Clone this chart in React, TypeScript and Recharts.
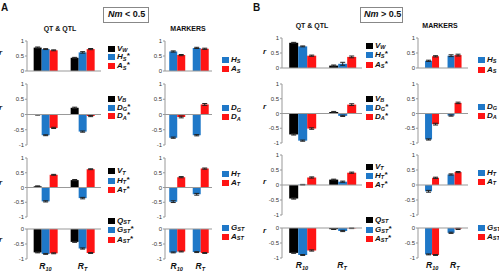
import React from "react";
import { BarChart, Bar, XAxis, YAxis, ReferenceLine, ErrorBar, Legend } from "recharts";

const FONT = "'Liberation Sans', Arial, sans-serif";
const BLACK = "#000000";
const BLUE = "#1f78c8";
const RED = "#ff1414";

const CATS = ["R10", "RT"];

// QT & QTL panels: series V, H*, A*; each row of values is [R10, RT]
const A_QT_1 = [[0.78, 0.44], [0.73, 0.62], [0.69, 0.73]];
const A_QT_2 = [[-0.01, 0.22], [-0.68, -0.56], [-0.44, -0.05]];
const A_QT_3 = [[0.04, 0.25], [-0.47, -0.36], [0.43, 0.62]];
const A_QT_4 = [[-0.78, -0.43], [-0.83, -0.65], [-0.81, -0.8]];
const B_QT_1 = [[0.84, 0.08], [0.72, 0.14], [0.41, 0.37]];
const B_QT_2 = [[-0.71, 0.05], [-0.92, -0.08], [-0.51, 0.3]];
const B_QT_3 = [[-0.45, 0.18], [0.01, 0.11], [0.25, 0.41]];
const B_QT_4 = [[-0.83, -0.04], [-0.9, -0.1], [-0.75, -0.01]];

// marker panels: series H, A
const A_MK_1 = [[0.65, 0.77], [0.53, 0.74]];
const A_MK_2 = [[-0.76, -0.68], [-0.08, 0.33]];
const A_MK_3 = [[-0.48, -0.23], [0.35, 0.64]];
const A_MK_4 = [[-0.78, -0.77], [-0.75, -0.8]];
const B_MK_1 = [[0.24, 0.41], [0.39, 0.43]];
const B_MK_2 = [[-0.88, -0.07], [-0.36, 0.36]];
const B_MK_3 = [[-0.21, 0.35], [0.24, 0.43]];
const B_MK_4 = [[-0.88, -0.16], [-0.9, -0.03]];

// standard errors, same layout as the values
const A_QT_1_ERR = [[0.02, 0.015], [0.015, 0.025], [0.015, 0.02]];
const A_QT_2_ERR = [[0.01, 0.02], [0.015, 0.02], [0.02, 0.02]];
const A_QT_3_ERR = [[0.015, 0.02], [0.02, 0.025], [0.015, 0.015]];
const A_QT_4_ERR = [[0.015, 0.015], [0.015, 0.02], [0.015, 0.015]];
const B_QT_1_ERR = [[0.015, 0.02], [0.015, 0.05], [0.02, 0.03]];
const B_QT_2_ERR = [[0.02, 0.02], [0.02, 0.02], [0.025, 0.03]];
const B_QT_3_ERR = [[0.02, 0.015], [0.01, 0.02], [0.02, 0.02]];
const B_QT_4_ERR = [[0.015, 0.01], [0.015, 0.02], [0.02, 0.01]];
const A_MK_1_ERR = [[0.02, 0.02], [0.02, 0.02]];
const A_MK_2_ERR = [[0.02, 0.02], [0.03, 0.03]];
const A_MK_3_ERR = [[0.03, 0.03], [0.02, 0.02]];
const A_MK_4_ERR = [[0.015, 0.015], [0.015, 0.015]];
const B_MK_1_ERR = [[0.02, 0.03], [0.02, 0.03]];
const B_MK_2_ERR = [[0.02, 0.02], [0.03, 0.025]];
const B_MK_3_ERR = [[0.03, 0.02], [0.02, 0.02]];
const B_MK_4_ERR = [[0.015, 0.02], [0.015, 0.02]];

// legend labels: [main letter, subscript, suffix]
const QT_LABELS = [
  [["V", "W", ""], ["H", "S", "*"], ["A", "S", "*"]],
  [["V", "B", ""], ["D", "G", "*"], ["D", "A", "*"]],
  [["V", "T", ""], ["H", "T", "*"], ["A", "T", "*"]],
  [["Q", "ST", ""], ["G", "ST", "*"], ["A", "ST", "*"]],
];
const MK_LABELS = [
  [["H", "S", ""], ["A", "S", ""]],
  [["D", "G", ""], ["D", "A", ""]],
  [["H", "T", ""], ["A", "T", ""]],
  [["G", "ST", ""], ["A", "ST", ""]],
];

const TICKS_POS = [0, 0.5, 1];
const TICKS_FULL = [-1, -0.5, 0, 0.5, 1];
const TICKS_NEG = [-1, -0.5, 0];

const YW = 22; // y axis width
const MT = 4;

type PanelProps = {
  values: number[][];
  errors: number[][];
  colors: string[];
  labels: string[][];
  axisX: number;
  right: number;
  top: number;
  bottom: number;
  domain: [number, number];
  ticks: number[];
  legendX: number;
  legendY: number[];
  showCats?: boolean;
  padL?: number;
  padR?: number;
};

const CatTick = ({ x, y, payload }: any) => {
  const v = String(payload.value);
  return (
    <text x={x} y={y + 10} textAnchor="middle" fontFamily={FONT} fontSize={8.5} fontWeight="bold" fontStyle="italic" fill="#111">
      {v.slice(0, 1)}
      <tspan fontSize={5.5} dy={1.5}>{v.slice(1)}</tspan>
    </text>
  );
};

function LegendLabel({ label }: { label: string[] }) {
  return (
    <span style={{ fontFamily: FONT, fontWeight: "bold", fontStyle: "italic", fontSize: 8, color: "#111", lineHeight: "8px", whiteSpace: "nowrap" }}>
      {label[0]}
      <span style={{ fontSize: 5.5, position: "relative", top: 1.5 }}>{label[1]}</span>
      {label[2] && <span style={{ position: "relative", top: -1 }}>{label[2]}</span>}
    </span>
  );
}

function Panel(p: PanelProps) {
  const mb = p.showCats ? 0 : 2;
  const xh = p.showCats ? 15 : 0;
  const left = p.axisX - YW;
  const chartTop = p.top - MT;
  const width = p.legendX + 40 - left;
  const height = MT + (p.bottom - p.top) + mb + xh;
  const data = CATS.map((c, i) => {
    const row: Record<string, any> = { cat: c };
    p.values.forEach((s, k) => {
      row["s" + k] = s[i];
      row["e" + k] = p.errors[k][i];
    });
    return row;
  });
  return (
    <div style={{ position: "absolute", left, top: chartTop }}>
      <BarChart
        width={width}
        height={height}
        data={data}
        margin={{ top: MT, right: p.legendX + 40 - p.right, bottom: mb, left: 0 }}
        barCategoryGap="18%"
        barGap={0}
      >
        <XAxis
          dataKey="cat"
          hide={!p.showCats}
          height={xh}
          interval={0}
          axisLine={false}
          tickLine={false}
          tickSize={0}
          tickMargin={0}
          tick={<CatTick />}
          padding={{ left: p.padL ?? 0, right: p.padR ?? 0 }}
        />
        <YAxis
          width={YW}
          domain={p.domain}
          ticks={p.ticks}
          interval={0}
          allowDataOverflow
          axisLine={{ stroke: "#999" }}
          tickLine={{ stroke: "#999" }}
          tickSize={2}
          tickMargin={1}
          tick={{ fontSize: 6, fill: "#333", fontFamily: FONT }}
        />
        {p.values.map((_, k) => (
          <Bar key={k} dataKey={"s" + k} fill={p.colors[k]} isAnimationActive={false}>
            <ErrorBar dataKey={"e" + k} width={2.5} strokeWidth={1} stroke="#222" direction="y" />
          </Bar>
        ))}
        <ReferenceLine y={0} stroke="#999" strokeWidth={1} />
        <Legend
          layout="vertical"
          align="center"
          verticalAlign="middle"
          wrapperStyle={{ left: p.legendX - left, top: 0, width: 40, height }}
          content={() => (
            <div style={{ position: "relative", width: 40, height }}>
              {p.labels.map((l, i) => (
                <div
                  key={i}
                  style={{ position: "absolute", left: 0, top: p.legendY[i] - chartTop - 4, height: 8, display: "flex", alignItems: "center" }}
                >
                  <div style={{ width: 7, height: 6, background: p.colors[i], marginRight: 2 }} />
                  <LegendLabel label={l} />
                </div>
              ))}
            </div>
          )}
        />
      </BarChart>
    </div>
  );
}

const textStyle = (x: number, y: number, extra: React.CSSProperties = {}): React.CSSProperties => ({
  position: "absolute",
  left: x,
  top: y,
  fontFamily: FONT,
  fontWeight: "bold",
  color: "#111",
  whiteSpace: "nowrap",
  lineHeight: 1,
  ...extra,
});

export default function App() {
  const qtColors = [BLACK, BLUE, RED];
  const mkColors = [BLUE, RED];
  const aRows: [number, number][] = [[41, 71], [84, 145], [158, 217], [229, 259]];
  const bRows: [number, number][] = [[38, 68], [83.5, 142.5], [155, 215], [228, 258]];
  const domains: [number, number][] = [[0, 1], [-1, 1], [-1, 1], [-1, 0]];
  const ticks = [TICKS_POS, TICKS_FULL, TICKS_FULL, TICKS_NEG];

  const aQt = [A_QT_1, A_QT_2, A_QT_3, A_QT_4];
  const aQtErr = [A_QT_1_ERR, A_QT_2_ERR, A_QT_3_ERR, A_QT_4_ERR];
  const bQt = [B_QT_1, B_QT_2, B_QT_3, B_QT_4];
  const bQtErr = [B_QT_1_ERR, B_QT_2_ERR, B_QT_3_ERR, B_QT_4_ERR];
  const aMk = [A_MK_1, A_MK_2, A_MK_3, A_MK_4];
  const aMkErr = [A_MK_1_ERR, A_MK_2_ERR, A_MK_3_ERR, A_MK_4_ERR];
  const bMk = [B_MK_1, B_MK_2, B_MK_3, B_MK_4];
  const bMkErr = [B_MK_1_ERR, B_MK_2_ERR, B_MK_3_ERR, B_MK_4_ERR];

  const aQtLeg = [[48.5, 57, 66], [98.5, 107.5, 116], [171, 180.5, 189.5], [220.5, 229.5, 239.5]];
  const bQtLeg = [[45.5, 54.5, 64.5], [98.5, 107.5, 116.5], [166.5, 175.5, 184.5], [219.5, 229.5, 238.5]];
  const aMkLeg = [[59.5, 69], [108, 117], [173.5, 182.5], [227.5, 236.5]];
  const bMkLeg = [[59.5, 69.5], [106.5, 115.5], [172.5, 181.5], [227.5, 236.5]];

  const aR = [53, 108, 183, 240];
  const bR = [52, 107, 182, 231];

  return (
    <div style={{ position: "absolute", left: 0, top: 0, width: 499, height: 274, background: "#fff", overflow: "hidden" }}>
      <div style={textStyle(1, 3, { fontSize: 10 })}>A</div>
      <div style={textStyle(253, 3, { fontSize: 10 })}>B</div>
      <div style={textStyle(103, 7, { fontSize: 9, border: "1px solid #888", padding: "2px 4px", width: 36, height: 10, textAlign: "center" })}>
        <i>Nm</i> &lt; 0.5
      </div>
      <div style={textStyle(360, 7, { fontSize: 9, border: "1px solid #888", padding: "2px 3px", width: 35, height: 10, textAlign: "center" })}>
        <i>Nm</i> &gt; 0.5
      </div>
      <div style={textStyle(60, 25, { fontSize: 7, transform: "translateX(-50%)" })}>QT &amp; QTL</div>
      <div style={textStyle(188, 25, { fontSize: 7, transform: "translateX(-50%)" })}>MARKERS</div>
      <div style={textStyle(312, 22, { fontSize: 7, transform: "translateX(-50%)" })}>QT &amp; QTL</div>
      <div style={textStyle(440, 22, { fontSize: 7, transform: "translateX(-50%)" })}>MARKERS</div>

      {aR.map((y, i) => (
        <div key={"ar" + i} style={textStyle(-1, y - 4, { fontSize: 8, fontStyle: "italic" })}>r</div>
      ))}
      {bR.map((y, i) => (
        <div key={"br" + i} style={textStyle(263, y - 4, { fontSize: 8, fontStyle: "italic" })}>r</div>
      ))}

      {aRows.map(([t, b], i) => (
        <Panel
          key={"aq" + i}
          values={aQt[i]}
          errors={aQtErr[i]}
          colors={qtColors}
          labels={QT_LABELS[i]}
          axisX={27}
          right={101}
          top={t}
          bottom={b}
          domain={domains[i]}
          ticks={ticks[i]}
          legendX={108}
          legendY={aQtLeg[i]}
          showCats={i === 3}
        />
      ))}
      {aRows.map(([t, b], i) => (
        <Panel
          key={"am" + i}
          values={aMk[i]}
          errors={aMkErr[i]}
          colors={mkColors}
          labels={MK_LABELS[i]}
          axisX={165}
          right={212}
          top={t}
          bottom={b}
          domain={domains[i]}
          ticks={ticks[i]}
          legendX={222}
          legendY={aMkLeg[i]}
          showCats={i === 3}
        />
      ))}
      {bRows.map(([t, b], i) => (
        <Panel
          key={"bq" + i}
          values={bQt[i]}
          errors={bQtErr[i]}
          colors={qtColors}
          labels={QT_LABELS[i]}
          axisX={282}
          right={362}
          top={t}
          bottom={b}
          domain={domains[i]}
          ticks={ticks[i]}
          legendX={366}
          legendY={bQtLeg[i]}
          showCats={i === 3}
        />
      ))}
      {bRows.map(([t, b], i) => (
        <Panel
          key={"bm" + i}
          values={bMk[i]}
          errors={bMkErr[i]}
          colors={mkColors}
          labels={MK_LABELS[i]}
          axisX={418}
          right={468}
          top={t}
          bottom={b}
          domain={domains[i]}
          ticks={ticks[i]}
          legendX={478}
          legendY={bMkLeg[i]}
          showCats={i === 3}
          padL={3}
          padR={2}
        />
      ))}
    </div>
  );
}
